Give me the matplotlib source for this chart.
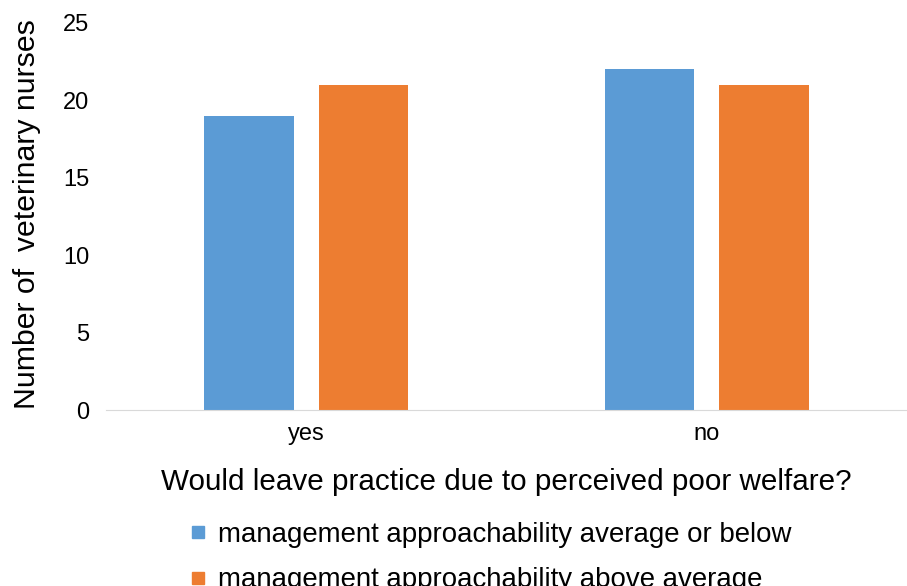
import matplotlib.pyplot as plt
import numpy as np
from matplotlib.lines import Line2D

plt.rcParams['font.family'] = ['Liberation Sans', 'DejaVu Sans']

# data
categories = ["yes", "no"]
below_avg = [19, 22]
above_avg = [21, 21]
series_names = ["management approachability average or below",
                "management approachability above average"]
colors = ["#5B9BD5", "#ED7D31"]

fig = plt.figure(figsize=(9.07, 5.86), dpi=100)
ax = fig.add_axes([0.117, 0.300, 0.883, 0.661])

x = np.arange(len(categories))
w = 0.224
ax.bar(x - 0.143, below_avg, w, color=colors[0])
ax.bar(x + 0.143, above_avg, w, color=colors[1])

ax.set_xlim(-0.5, 1.5)
ax.set_ylim(0, 25)
ax.set_yticks([0, 5, 10, 15, 20, 25])
ax.set_xticks(x)
ax.set_xticklabels(categories)
ax.tick_params(axis='both', length=0, labelsize=17, colors='black')
ax.tick_params(axis='y', pad=12)
ax.tick_params(axis='x', pad=9)
for s in ['top', 'right', 'left']:
    ax.spines[s].set_visible(False)
ax.spines['bottom'].set_color('#D9D9D9')

fig.text(0.030, 0.635, "Number of  veterinary nurses", rotation=90,
         ha='center', va='center', fontsize=21.8)
fig.text(0.558, 0.177, "Would leave practice due to perceived poor welfare?",
         ha='center', va='center', fontsize=21.3)

handles = [Line2D([], [], marker='s', linestyle='none', markersize=9,
                  markerfacecolor=c, markeredgecolor=c) for c in colors]
fig.legend(handles, series_names, loc='upper left',
           bbox_to_anchor=(0.2095, 0.110), frameon=False, fontsize=19.9,
           handlelength=0.6, handletextpad=0.42, labelspacing=0.72,
           borderaxespad=0, borderpad=0)

plt.savefig("out.png", dpi=100)
